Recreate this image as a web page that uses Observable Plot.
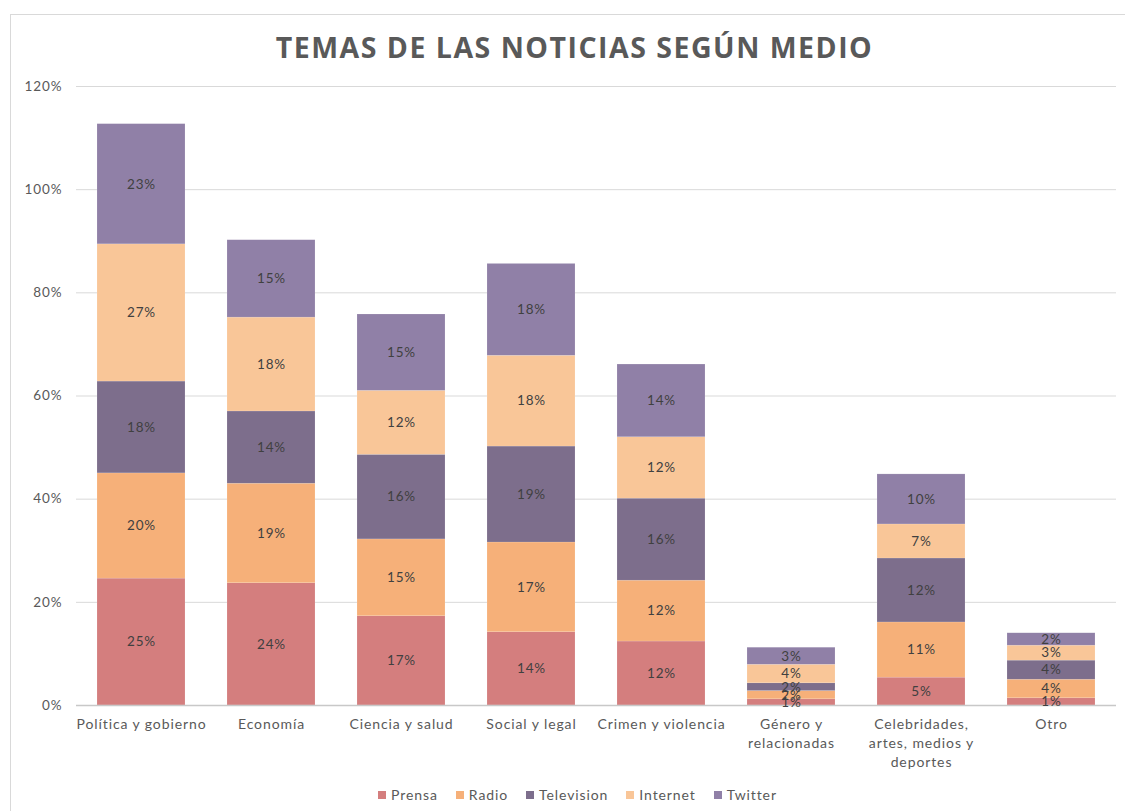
<!DOCTYPE html>
<html>
<head>
<meta charset="utf-8">
<script src="https://cdn.jsdelivr.net/npm/d3@7"></script>
<script src="https://cdn.jsdelivr.net/npm/@observablehq/plot@0.6"></script>
<style>
  html, body { margin: 0; padding: 0; background: #fff; width: 1125px; height: 811px; overflow: hidden; position: relative; font-family: Lato, "Open Sans", sans-serif; }
  #frame { position: absolute; left: 10px; top: 14px; width: 1300px; height: 1000px; border: 1.5px solid #d9d9d9; box-sizing: border-box; }
  #title { position: absolute; left: 12px; top: 28px; width: 1125px; text-align: center; font-family: "Open Sans", sans-serif; font-weight: 700; font-size: 28.5px; letter-spacing: 1.5px; color: #595959; line-height: 38px; }
  #chart { position: absolute; left: 0; top: 70px; }
  #legend { position: absolute; left: 15px; top: 786px; width: 1125px; display: flex; justify-content: center; gap: 18px; font-size: 14px; color: #595959; letter-spacing: 0.9px; }
  #legend span.item { display: flex; align-items: center; }
  #legend span.sw { display: inline-block; width: 8px; height: 8px; margin-right: 5px; }
</style>
</head>
<body>
<div id="frame"></div>
<div id="title">TEMAS DE LAS NOTICIAS SEGÚN MEDIO</div>
<div id="chart"></div>
<div id="legend"></div>
<script>
const categories = [
  "Política y gobierno",
  "Economía",
  "Ciencia y salud",
  "Social y legal",
  "Crimen y violencia",
  "Género y\nrelacionadas",
  "Celebridades,\nartes, medios y\ndeportes",
  "Otro"
];
const series = ["Prensa", "Radio", "Television", "Internet", "Twitter"];
const colors = ["#d47e7e", "#f6b079", "#7d6e8c", "#f9c698", "#9080a7"];
const prensa     = [24.6, 23.7, 17.3, 14.2, 12.4, 1.2, 5.4, 1.4];
const radio      = [20.4, 19.3, 14.9, 17.4, 11.8, 1.6, 10.7, 3.6];
const television = [17.8, 14.0, 16.4, 18.6, 15.9, 1.5, 12.4, 3.7];
const internet   = [26.6, 18.2, 12.4, 17.6, 11.9, 3.6, 6.6, 2.9];
const twitter    = [23.3, 15.0, 14.8, 17.8, 14.1, 3.3, 9.7, 2.4];
const yTicks = [0, 20, 40, 60, 80, 100, 120];

const seriesValues = [prensa, radio, television, internet, twitter];
const data = [];
series.forEach((s, si) => {
  categories.forEach((c, ci) => {
    data.push({category: c, medio: s, value: seriesValues[si][ci]});
  });
});

const chart = Plot.plot({
  width: 1125,
  height: 705,
  marginTop: 16,
  marginBottom: 70,
  marginLeft: 76,
  marginRight: 9,
  style: {fontFamily: "Lato, 'Open Sans', sans-serif", background: "transparent", letterSpacing: "0.9px"},
  x: {domain: categories, paddingInner: 0.32, paddingOuter: 0.16, axis: null},
  y: {domain: [0, 120], axis: null},
  color: {domain: series, range: colors},
  marks: [
    Plot.gridY(yTicks, {stroke: "#d9d9d9", strokeOpacity: 1}),
    Plot.barY(data, {x: "category", y: "value", fill: "medio", order: series, stroke: "#ffffff", strokeOpacity: 0.25, strokeWidth: 0.5}),
    Plot.ruleY([0], {stroke: "#c8c8c8", strokeWidth: 1.5}),
    Plot.text(data, Plot.stackY({x: "category", y: "value", z: "medio", order: series, text: d => Math.round(d.value) + "%", fill: "#404040", fontSize: 13.5})),
    Plot.text(yTicks, {x: null, y: d => d, frameAnchor: "left", dx: -14, textAnchor: "end", text: d => d + "%", fill: "#595959", fontSize: 13.5}),
    Plot.text(categories, {x: d => d, frameAnchor: "bottom", dy: 10, lineAnchor: "top", lineHeight: 1.35, text: d => d, fill: "#595959", fontSize: 14})
  ]
});
document.getElementById("chart").appendChild(chart);

const legend = document.getElementById("legend");
series.forEach((s, i) => {
  const item = document.createElement("span");
  item.className = "item";
  const sw = document.createElement("span");
  sw.className = "sw";
  sw.style.background = colors[i];
  item.appendChild(sw);
  item.appendChild(document.createTextNode(s));
  legend.appendChild(item);
});
</script>
</body>
</html>
